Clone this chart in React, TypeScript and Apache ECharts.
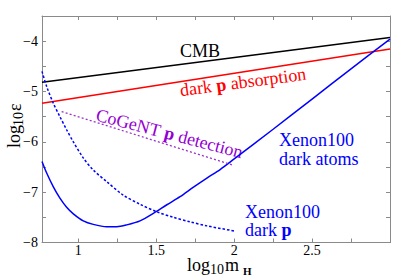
import React, { useEffect, useRef } from "react";
import * as echarts from "echarts";

// ---- data ----
const cmbX = [0.767, 3.0];
const cmbY = [-4.815, -3.925];

const absX = [0.767, 3.0];
const absY = [-5.233, -4.155];

const atomsX = [0.767, 0.797, 0.839, 0.882, 0.925, 0.968, 1.032, 1.096, 1.182, 1.247, 1.311, 1.396, 1.482, 1.568, 1.653, 1.739, 1.825, 1.91, 1.996, 2.25, 2.5, 2.75, 3.0];
const atomsY = [-6.39, -6.62, -6.89, -7.12, -7.30, -7.43, -7.57, -7.64, -7.686, -7.686, -7.65, -7.57, -7.42, -7.25, -7.09, -6.9, -6.72, -6.55, -6.35, -5.75, -5.15, -4.55, -3.96];

const darkPX = [0.767, 0.797, 0.839, 0.882, 0.925, 0.968, 1.032, 1.096, 1.182, 1.289, 1.396, 1.504, 1.61, 1.717, 1.825, 2.0];
const darkPY = [-4.6, -4.9, -5.23, -5.5, -5.76, -6.0, -6.32, -6.56, -6.79, -7.06, -7.24, -7.39, -7.5, -7.59, -7.67, -7.77];

const cogentX = [0.893, 1.99];
const cogentY = [-5.4, -6.46];

const xTickValues = [1, 1.25, 1.5, 1.75, 2, 2.25, 2.5, 2.75, 3];
const xLabelValues = [1, 1.5, 2, 2.5];
const yLabelValues = [-8, -7, -6, -5, -4];

const zip = (xs: number[], ys: number[]) => xs.map((x, i) => [x, ys[i]]);

const SERIF = "Liberation Serif, Times New Roman, serif";
const AXIS_GRAY = "#8a8a8a";

const txt = (text: string, x: number, y: number, color: string, size = 18, extra: any = {}) => ({
  type: "text",
  x,
  y,
  style: { text, fill: color, fontFamily: SERIF, fontSize: size, textVerticalAlign: "middle", ...extra },
});

export default function App() {
  const ref = useRef<HTMLDivElement>(null);
  useEffect(() => {
    if (!ref.current) return;
    const chart = echarts.init(ref.current, null, { renderer: "svg" });
    const axisCommon = {
      axisLine: { show: true, lineStyle: { color: AXIS_GRAY, width: 1 } },
      splitLine: { show: false },
    };
    const xBase = {
      type: "value",
      min: 0.767,
      max: 3.0,
      ...axisCommon,
      axisTick: { show: true, inside: true, length: 4, customValues: xTickValues, lineStyle: { color: AXIS_GRAY } },
    };
    const yBase = {
      type: "value",
      min: -8,
      max: -3.5,
      interval: 0.5,
      ...axisCommon,
      axisTick: { show: true, inside: true, length: 4, lineStyle: { color: AXIS_GRAY } },
    };
    const rich = (color: string) => ({
      a: { fontFamily: SERIF, fontSize: 18, color },
      b: { fontFamily: SERIF, fontSize: 18, fontWeight: "bold", color },
    });
    const option: any = {
      animation: false,
      textStyle: { fontFamily: SERIF },
      grid: { left: 42, right: 25, top: 16, bottom: 37.5 },
      xAxis: [
        {
          ...xBase,
          position: "bottom",
          axisLabel: {
            show: true,
            customValues: xLabelValues,
            color: "#000",
            fontFamily: SERIF,
            fontSize: 14,
            lineHeight: 13,
            margin: 1.5,
            formatter: (v: number) => String(v),
          },
        },
        { ...xBase, position: "top", axisLabel: { show: false } },
      ],
      yAxis: [
        {
          ...yBase,
          position: "left",
          axisLabel: {
            show: true,
            customValues: yLabelValues,
            color: "#000",
            fontFamily: SERIF,
            fontSize: 14,
            margin: 4,
            formatter: (v: number) => (Number.isInteger(v) ? String(v).replace("-", "\u2212") : ""),
          },
        },
        { ...yBase, position: "right", axisLabel: { show: false } },
      ],
      series: [
        { type: "line", data: zip(cmbX, cmbY), showSymbol: false, lineStyle: { color: "#000", width: 1.5 } },
        { type: "line", data: zip(absX, absY), showSymbol: false, lineStyle: { color: "#ff0000", width: 1.5 } },
        { type: "line", data: zip(atomsX, atomsY), smooth: 0.3, showSymbol: false, lineStyle: { color: "#0000ff", width: 1.5 } },
        { type: "line", data: zip(darkPX, darkPY), smooth: 0.3, showSymbol: false, lineStyle: { color: "#0000ff", width: 1.5, type: [2.5, 2] } },
        { type: "line", data: zip(cogentX, cogentY), showSymbol: false, lineStyle: { color: "#9933cc", width: 1.3, type: [2, 2.2] } },
      ],
      graphic: [
        txt("CMB", 180, 50.5, "#000"),
        {
          type: "text", x: 243, y: 82, rotation: 0.13,
          style: { text: "{a|dark }{b|p}{a| absorption}", fill: "#ff0000", fontFamily: SERIF, fontSize: 18, textAlign: "center", textVerticalAlign: "middle", rich: rich("#ff0000") },
        },
        {
          type: "text", x: 169.5, y: 133.5, rotation: -0.255,
          style: { text: "{a|CoGeNT}{b| p }{a|detection}", fill: "#9400d3", fontFamily: SERIF, fontSize: 18, textAlign: "center", textVerticalAlign: "middle", rich: rich("#9400d3") },
        },
        txt("Xenon100", 279, 140, "#0000ff"),
        txt("dark atoms", 279, 159, "#0000ff"),
        txt("Xenon100", 245, 211.5, "#0000ff"),
        {
          type: "text", x: 245, y: 230,
          style: { text: "{a|dark }{b|p}", fill: "#0000ff", fontFamily: SERIF, fontSize: 18, textVerticalAlign: "middle", rich: rich("#0000ff") },
        },
        // x axis name
        {
          type: "group", x: 187, y: 270.5,
          children: [
            txt("log", 0, -6, "#000", 18, { lineHeight: 13 }),
            txt("10", 23, -1, "#000", 14, { lineHeight: 10 }),
            txt("m", 38, -6, "#000", 18, { lineHeight: 13 }),
            txt("H", 56, 0, "#000", 11, { fontWeight: "bold", lineHeight: 9 }),
          ],
        },
        // y axis name
        {
          type: "group", x: 19.5, y: 148, rotation: Math.PI / 2,
          children: [
            txt("log", 0, -6, "#000"),
            txt("10", 22, -1, "#000", 14),
            txt("\u03b5", 37, -5, "#000"),
          ],
        },
      ],
    };
    chart.setOption(option);
    return () => chart.dispose();
  }, []);
  return <div ref={ref} style={{ width: 415, height: 280, position: "absolute", left: 0, top: 0 }} />;
}
